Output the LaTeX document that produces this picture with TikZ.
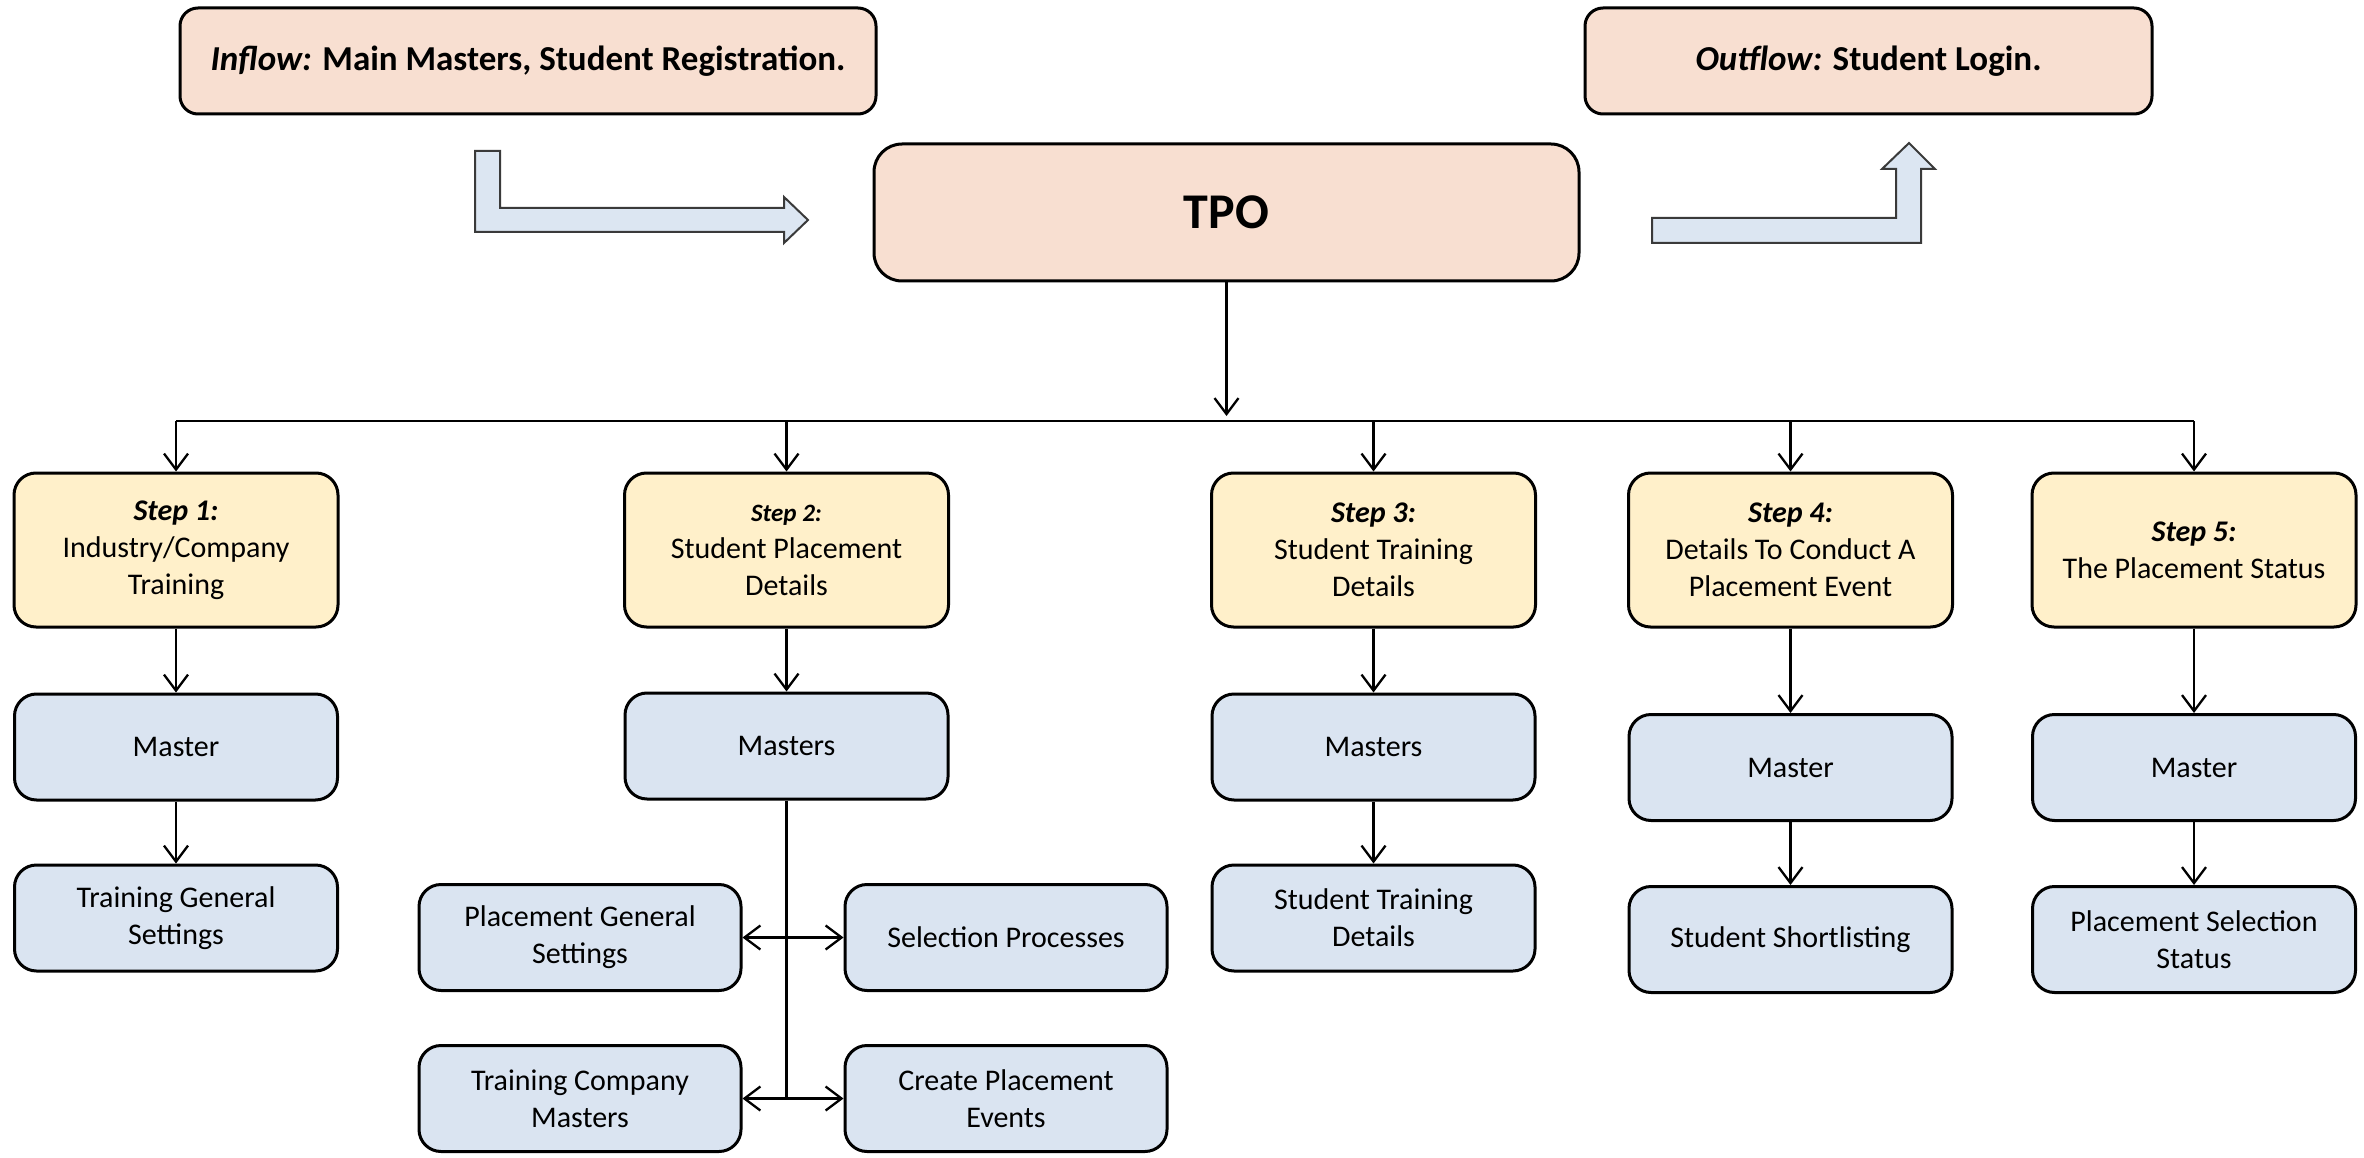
\documentclass[tikz,border=0pt]{standalone}
\usepackage{fontspec}
\setmainfont{Carlito}
\usetikzlibrary{arrows.meta}
\definecolor{pinkfill}{HTML}{F8DFD1}
\definecolor{yellowfill}{HTML}{FFF0CA}
\definecolor{bluefill}{HTML}{DAE4F1}
\definecolor{arrowfill}{HTML}{DCE6F2}
\definecolor{arrowedge}{HTML}{3A3A3A}
\begin{document}
\begin{tikzpicture}[x=1pt,y=-1pt,
  base/.style={draw=black, line width=3pt, rounded corners=22pt, align=center, inner sep=4pt,
    font=\fontsize{30}{37}\selectfont, text=black},
  topbox/.style={base, fill=pinkfill, rounded corners=18pt, font=\fontsize{35}{42}\selectfont\bfseries},
  stepbox/.style={base, fill=yellowfill, minimum width=324pt, minimum height=154pt},
  subbox/.style={base, fill=bluefill, minimum width=323pt, minimum height=106pt},
  conn/.style={line width=2.3pt, draw=black},
  arr/.style={conn, -{Straight Barb[length=16pt,width=24pt]}},
  darr/.style={conn, {Straight Barb[length=16pt,width=24pt]}-{Straight Barb[length=16pt,width=24pt]}},
  bent/.style={fill=arrowfill, draw=arrowedge, line width=2pt, line join=miter}
]
\useasboundingbox (0,0) rectangle (2364,1158);

% top row
\node[topbox, minimum width=696pt, minimum height=106pt] (inflow) at (528,61)
  {\textit{Inflow:} Main Masters, Student Registration.};
\node[topbox, minimum width=567pt, minimum height=106pt] (outflow) at (1868.5,61)
  {\textit{Outflow:} Student Login.};
\node[topbox, minimum width=705pt, minimum height=137pt, rounded corners=28pt,
  font=\fontsize{50}{60}\selectfont\bfseries] (tpo) at (1226.5,212.5) {TPO};

% bent arrows
\draw[bent] (475,151) -- (500,151) -- (500,208) -- (784,208) -- (784,197) -- (808,220)
  -- (784,243) -- (784,232) -- (475,232) -- cycle;
\draw[bent] (1652,218) -- (1896,218) -- (1896,169) -- (1882,169) -- (1909,143)
  -- (1935,169) -- (1921,169) -- (1921,243) -- (1652,243) -- cycle;

% steps
\node[stepbox] (s1) at (176,550) {\textbf{\textit{Step 1:}}\\Industry/Company\\Training};
\node[stepbox] (s2) at (786.5,550) {{\fontsize{25}{30}\selectfont\textbf{\textit{Step 2:}}}\\Student Placement\\Details};
\node[stepbox] (s3) at (1373.5,550) {\textbf{\textit{Step 3:}}\\Student Training\\Details};
\node[stepbox] (s4) at (1790.5,550) {\textbf{\textit{Step 4:}}\\Details To Conduct A\\Placement Event};
\node[stepbox] (s5) at (2194,550) {\textbf{\textit{Step 5:}}\\The Placement Status};

% masters
\node[subbox] (m1) at (176,747) {Master};
\node[subbox] (m2) at (786.5,746) {Masters};
\node[subbox] (m3) at (1373.5,747) {Masters};
\node[subbox] (m4) at (1790.5,767.5) {Master};
\node[subbox] (m5) at (2194,767.5) {Master};

% bottom boxes
\node[subbox] (b1) at (176,918) {Training General\\Settings};
\node[subbox] (b3) at (1373.5,918) {Student Training\\Details};
\node[subbox] (b4) at (1790.5,939.5) {Student Shortlisting};
\node[subbox] (b5) at (2194,939.5) {Placement Selection\\Status};
\node[subbox, minimum width=322pt] (pgs) at (580,937.5) {Placement General\\Settings};
\node[subbox, minimum width=322pt] (sp) at (1006,937.5) {Selection Processes};
\node[subbox, minimum width=322pt] (tcm) at (580,1098.5) {Training Company\\Masters};
\node[subbox, minimum width=322pt] (cpe) at (1006,1098.5) {Create Placement\\Events};

% connectors
\coordinate (busy) at (0,421);
\draw[conn, line width=2.6pt] (s1.north |- busy) -- (s5.north |- busy);
\draw[arr, shorten >=5pt] (tpo.south) -- (tpo.south |- busy);
\foreach \i in {1,...,5}{
  \draw[arr] (s\i.north |- busy) -- (s\i.north);
  \draw[arr] (s\i.south) -- (m\i.north);
}
\draw[arr] (m1.south) -- (b1.north);
\draw[arr] (m3.south) -- (b3.north);
\draw[arr] (m4.south) -- (b4.north);
\draw[arr] (m5.south) -- (b5.north);
\draw[conn] (m2.south) -- (m2.south |- tcm.east);
\draw[darr] (pgs.east) -- (sp.west);
\draw[darr] (tcm.east) -- (cpe.west);
\end{tikzpicture}
\end{document}
